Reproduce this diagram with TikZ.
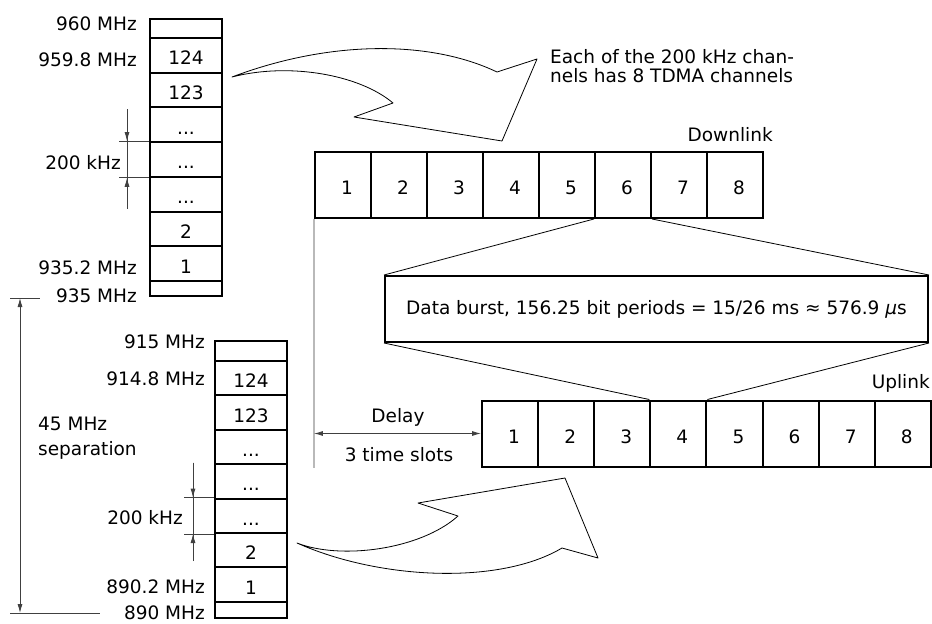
\documentclass[tikz,border=0pt]{standalone}
\usepackage{fontspec}
\setmainfont{DejaVu Sans}
\usepackage{tikz}
\usetikzlibrary{arrows.meta,calc}

\newcommand{\chdots}{...}

\begin{document}
\begin{tikzpicture}[
  x=1pt,y=-1pt,
  font=\fontsize{18.5}{20}\selectfont,
  cell/.style={draw,line width=2pt,minimum width=72pt,inner sep=0pt},
  chan/.style={cell,minimum height=34.7pt,text height=19pt,text depth=0pt},
  slot/.style={draw,line width=2pt,minimum width=56.1pt,minimum height=66pt,
               inner sep=0pt,text height=19pt,text depth=0pt},
  freq/.style={anchor=east,inner sep=0pt},
  dim/.style={black!75,line width=0.8pt},
  dimarr/.style={dim,-{Latex[length=9pt,width=5pt]}},
  fan/.style={line width=0.8pt},
  bigarr/.style={line width=0.8pt,fill=white,line join=round}
]
  \useasboundingbox (0,0) rectangle (932,624);

  % downlink band 935-960 MHz
  \node[cell,minimum height=19pt] (dn0) at (186,28.5) {};
  \foreach \t [count=\k] in {124,123,\chdots,\chdots,\chdots,2,1}
    \node[chan] (dn\k) at (186,{20.65+34.7*\k}) {\t};
  \node[cell,minimum height=15.1pt] (dn8) at (186,288.45) {};

  \node[freq] (f960)  at (137,24)  {960 MHz};
  \node[freq] (f9598) at (137,60)  {959.8 MHz};
  \node[freq] (f9352) at (137,268) {935.2 MHz};
  \node[freq] (f935)  at (137,296) {935 MHz};

  \draw[dim] (dn4.north west) -- ++(-30,0);
  \draw[dim] (dn4.south west) -- ++(-30,0);
  \draw[dim] ($(dn4.north west)+(-22,-32)$) -- ($(dn4.south west)+(-22,31)$);
  \draw[dimarr] ($(dn4.north west)+(-22,-32)$) -- ($(dn4.north west)+(-22,0)$);
  \draw[dimarr] ($(dn4.south west)+(-22,31)$) -- ($(dn4.south west)+(-22,0)$);
  \node[freq] (khza) at (121,163) {200 kHz};

  % uplink band 890-915 MHz
  \node[cell,minimum height=20pt] (up0) at (251,351) {};
  \foreach \t [count=\k] in {124,123,\chdots,\chdots,\chdots,2,1}
    \node[chan,minimum height=34.4pt] (up\k) at (251,{343.8+34.4*\k}) {\t};
  \node[cell,minimum height=16.2pt] (up8) at (251,609.9) {};

  \node[freq] (f915)  at (205,342) {915 MHz};
  \node[freq] (f9148) at (205,379) {914.8 MHz};
  \node[freq] (f8902) at (205,587) {890.2 MHz};
  \node[freq] (f890)  at (205,613) {890 MHz};

  \draw[dim] (up5.north west) -- ++(-30,0);
  \draw[dim] (up5.south west) -- ++(-30,0);
  \draw[dim] ($(up5.north west)+(-21,-35)$) -- ($(up5.south west)+(-21,27)$);
  \draw[dimarr] ($(up5.north west)+(-21,-35)$) -- ($(up5.north west)+(-21,0)$);
  \draw[dimarr] ($(up5.south west)+(-21,27)$) -- ($(up5.south west)+(-21,0)$);
  \node[freq] (khzb) at (183,518) {200 kHz};

  % 45 MHz separation
  \coordinate (s935) at (20,298);
  \coordinate (s890) at (20,613);
  \draw[dim] ($(s935)+(-10,0)$) -- ++(30,0);
  \draw[dim] ($(s890)+(-10,0)$) -- ++(90,0);
  \draw[dim,{Latex[length=9pt,width=5pt]}-{Latex[length=9pt,width=5pt]}] (s935) -- (s890);
  \node[anchor=west,align=left,inner sep=0pt,font=\fontsize{18.5}{25}\selectfont]
    (sep) at (38,438) {45 MHz\\separation};

  % TDMA frames
  \foreach \i in {1,...,8}
    \node[slot] (dl\i) at ({315+56*(\i-0.5)},185) {\hspace*{8pt}\i};
  \foreach \i in {1,...,8}
    \node[slot] (ul\i) at ({482+56.1*(\i-0.5)},433.5) {\hspace*{8pt}\i};
  \node[freq] (dlab) at (773,135) {Downlink};
  \node[freq] (ulab) at (930,383) {Uplink};

  \node[anchor=west,align=left,inner sep=0pt,font=\fontsize{18.5}{19.5}\selectfont]
    (note) at (550,66) {Each of the 200 kHz chan-\\nels has 8 TDMA channels};

  % burst
  \node[draw,line width=2pt,minimum width=543pt,minimum height=66pt,inner sep=0pt]
    (burst) at (656.5,309) {Data burst, 156.25 bit periods = 15/26 ms ≈ 576.9 {\itshape μ}s};
  \draw[fan] (dl6.south west) -- (burst.north west);
  \draw[fan] (dl6.south east) -- (burst.north east);
  \draw[fan] (burst.south west) -- (ul4.north west);
  \draw[fan] (burst.south east) -- (ul4.north east);

  % delay
  \draw[gray!55,line width=1.5pt] (dl1.south west) -- (dl1.south west |- ul1.south);
  \draw[dim,{Latex[length=9pt,width=5pt]}-{Latex[length=9pt,width=5pt]}]
    (dl1.south west |- ul1.west) -- (ul1.west);
  \node (delay) at (398,417) {Delay};
  \node (slots3) at (399,455) {3 time slots};

  % block arrows
  \draw[bigarr] (232,77) .. controls (330,40) and (430,40) .. (497,72)
    -- (537,59) -- (502,141) -- (354,117) -- (393,103)
    .. controls (360,75) and (290,62) .. (232,77) -- cycle;
  \draw[bigarr] (297,543) .. controls (340,560) and (420,550) .. (458,516)
    -- (418,503) -- (565,478) -- (598,558) -- (562,548)
    .. controls (500,585) and (380,580) .. (297,543) -- cycle;
\end{tikzpicture}
\end{document}
